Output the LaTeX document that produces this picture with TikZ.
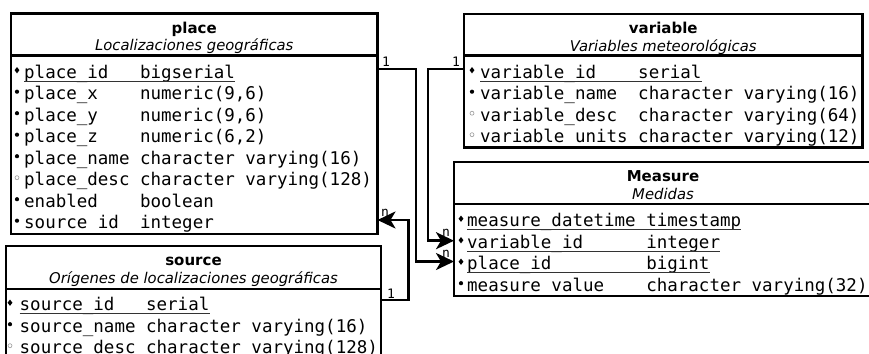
\documentclass[tikz,border=0pt]{standalone}
\usepackage{fontspec}
\setmainfont{DejaVu Sans}
\newfontfamily\fieldfont{DejaVu Sans Mono}
\usetikzlibrary{arrows.meta,shapes.geometric}

\begin{document}
\begin{tikzpicture}[x=1pt,y=-1pt,
  tblbox/.style={draw, line width=2.6pt, inner sep=0pt, outer sep=0pt, anchor=north west},
  divider/.style={line width=2.6pt},
  tbltitle/.style={font=\fontsize{15}{18}\selectfont\bfseries, anchor=base, inner sep=0pt},
  tblsub/.style={font=\fontsize{14.8}{18}\selectfont\itshape, anchor=base, inner sep=0pt},
  field/.style={font=\fieldfont\fontsize{17.5}{20}\selectfont, anchor=base west, inner sep=0pt},
  pk/.style={diamond, fill=black, inner sep=0pt, minimum width=5pt, minimum height=6.5pt},
  nn/.style={circle, fill=black, inner sep=0pt, minimum size=4.2pt},
  nul/.style={circle, draw=black!40, line width=0.6pt, inner sep=0pt, minimum size=4pt},
  keyline/.style={line width=1.3pt, black!80},
  card/.style={font=\fieldfont\fontsize{13}{15}\selectfont, anchor=base west, inner sep=0pt},
  rel/.style={line width=2.6pt, -{Stealth[length=18pt,width=17pt,inset=5pt]}},
]
\path[use as bounding box] (0,0) rectangle (869,353);
\clip (0,0) rectangle (869,353);

% ---------- table: place ----------
\node[tblbox, minimum width=366.5pt, minimum height=220.5pt] (place) at (11,13.5) {};
\draw[divider] (place.west |- 0,55.5) -- (place.east |- 0,55.5);
\node[tbltitle] (place-t) at (194.25,33.5) {place};
\node[tblsub] (place-s) at (194.25,51) {Localizaciones geográficas};
\node[field] (p1) at (24,78)    {place\_id~~~bigserial};
\node[field] (p2) at (24,99.5)  {place\_x~~~~numeric(9,6)};
\node[field] (p3) at (24,121)   {place\_y~~~~numeric(9,6)};
\node[field] (p4) at (24,142.5) {place\_z~~~~numeric(6,2)};
\node[field] (p5) at (24,164)   {place\_name~character~varying(16)};
\node[field] (p6) at (24,185.5) {place\_desc~character~varying(128)};
\node[field] (p7) at (24,207)   {enabled~~~~boolean};
\node[field] (p8) at (24,228.5) {source~id~~integer};
\draw[keyline] ([yshift=-3.3pt]p1.base west) -- ([yshift=-3.3pt]p1.base east);
\node[pk]  (p1m) at (17,70.2) {};
\node[nn]  (p2m) at (17,91.7) {};
\node[nn]  (p3m) at (17,113.2) {};
\node[nn]  (p4m) at (17,134.7) {};
\node[nn]  (p5m) at (17,156.2) {};
\node[nul] (p6m) at (17,177.7) {};
\node[nn]  (p7m) at (17,199.2) {};
\node[nn]  (p8m) at (17,220.7) {};

% ---------- table: variable ----------
\node[tblbox, minimum width=398.5pt, minimum height=133.5pt] (variable) at (464,14) {};
\draw[divider] (variable.west |- 0,55.5) -- (variable.east |- 0,55.5);
\node[tbltitle] (variable-t) at (663.25,34) {variable};
\node[tblsub] (variable-s) at (663.25,51.5) {Variables meteorológicas};
\node[field] (v1) at (480,78)    {variable\_id~~~~serial};
\node[field] (v2) at (480,99.5)  {variable\_name~~character~varying(16)};
\node[field] (v3) at (480,121)   {variable\_desc~~character~varying(64)};
\node[field] (v4) at (480,142.5) {variable~units~character~varying(12)};
\draw[keyline] ([yshift=-3.3pt]v1.base west) -- ([yshift=-3.3pt]v1.base east);
\node[pk]  (v1m) at (472,70.2) {};
\node[nn]  (v2m) at (472,91.7) {};
\node[nul] (v3m) at (472,113.2) {};
\node[nul] (v4m) at (472,134.7) {};

% ---------- table: Measure ----------
\node[tblbox, minimum width=418pt, minimum height=134pt] (measure) at (454,162) {};
\draw[divider] (measure.west |- 0,204) -- (measure.east |- 0,204);
\node[tbltitle] (measure-t) at (663,181.5) {Measure};
\node[tblsub] (measure-s) at (663,199.5) {Medidas};
\node[field] (m1) at (467,226.5) {measure\_datetime~timestamp};
\node[field] (m2) at (467,248)   {variable\_id~~~~~~integer};
\node[field] (m3) at (467,269.5) {place\_id~~~~~~~~~bigint};
\node[field] (m4) at (467,291)   {measure~value~~~~character~varying(32)};
\draw[keyline] ([yshift=-3.3pt]m1.base west) -- ([yshift=-3.3pt]m1.base east);
\draw[keyline] ([yshift=-3.3pt]m2.base west) -- ([yshift=-3.3pt]m2.base east);
\draw[keyline] ([yshift=-3.3pt]m3.base west) -- ([yshift=-3.3pt]m3.base east);
\node[pk] (m1m) at (461,218.7) {};
\node[pk] (m2m) at (461,240.2) {};
\node[pk] (m3m) at (461,261.7) {};
\node[nn] (m4m) at (461,283.2) {};

% ---------- table: source ----------
\node[tblbox, minimum width=375pt, minimum height=125pt] (source) at (6,246) {};
\draw[divider] (source.west |- 0,289) -- (source.east |- 0,289);
\node[tbltitle] (source-t) at (193.5,265.5) {source};
\node[tblsub] (source-s) at (193.5,283.5) {Orígenes de localizaciones geográficas};
\node[field] (s1) at (19.5,310.5) {source\_id~~~serial};
\node[field] (s2) at (19.5,332)   {source\_name~character~varying(16)};
\node[field] (s3) at (19.5,353.5) {source\_desc~character~varying(128)};
\draw[keyline] ([yshift=-3.3pt]s1.base west) -- ([yshift=-3.3pt]s1.base east);
\node[pk]  (s1m) at (10,302.7) {};
\node[nn]  (s2m) at (10,324.2) {};
\node[nul] (s3m) at (10,345.7) {};

% ---------- cardinalities ----------
\node[card] (c1) at (382,66.5)  {1};
\node[card] (c2) at (452,66.5)  {1};
\node[card] (c3) at (387,298)   {1};
\node[card] (c4) at (381,216)   {n};
\node[card] (c5) at (442,236)   {n};
\node[card] (c6) at (442,257)   {n};

% ---------- relationships ----------
\draw[rel] (place.east |- 0,69) -| (416,261.5) -- (measure.west |- 0,261.5);
\draw[rel] (variable.west |- 0,69) -| (428,240.7) -- (measure.west |- 0,240.7);
\draw[rel] (source.east |- 0,300) -| (408.5,220) -- (place.east |- 0,220);
\end{tikzpicture}
\end{document}
